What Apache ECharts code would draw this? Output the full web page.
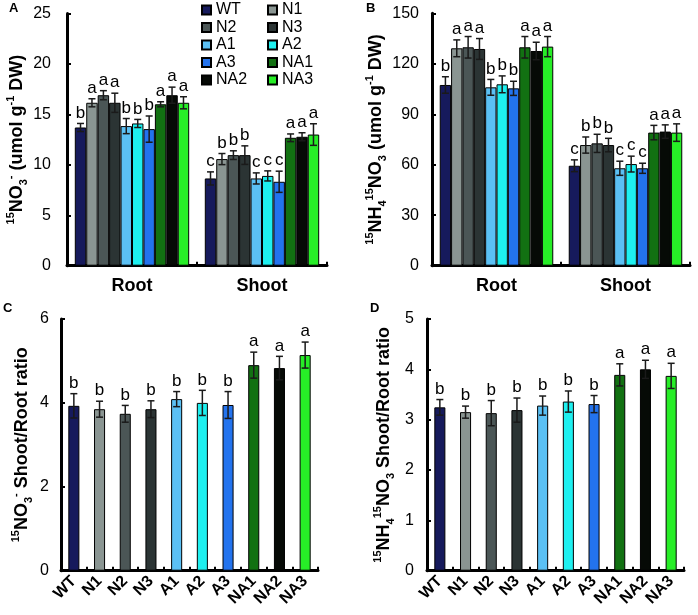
<!DOCTYPE html>
<html>
<head>
<meta charset="utf-8">
<script src="https://cdn.jsdelivr.net/npm/echarts@6/dist/echarts.min.js"></script>
<style>html,body{margin:0;padding:0;background:#fff}#c{width:698px;height:615px}</style>
</head>
<body>
<div id="c"></div>
<script>
// ---- data ----
const genotypes = ['WT','N1','N2','N3','A1','A2','A3','NA1','NA2','NA3'];
const tissues = ['Root','Shoot'];

const no3Root      = [13.7,16.15,16.9,16.15,13.84,14.1,13.54,16.0,16.9,16.15];
const no3RootErr   = [0.4,0.4,0.45,0.95,0.75,0.4,1.3,0.25,0.8,0.6];
const no3RootSig   = ['b','a','a','a','b','b','b','a','a','a'];
const no3Shoot     = [8.65,10.57,10.96,10.96,8.65,8.9,8.32,12.68,12.78,13.0];
const no3ShootErr  = [0.65,0.55,0.43,0.92,0.55,0.5,1.05,0.38,0.4,1.07];
const no3ShootSig  = ['c','b','b','b','c','c','c','a','a','a'];

const nhRoot       = [107.4,129.2,129.8,128.8,106.0,107.8,105.4,129.8,127.6,130.2];
const nhRootErr    = [4.9,5.0,6.4,6.2,4.7,5.0,4.2,6.4,5.2,6.0];
const nhRootSig    = ['b','a','a','a','b','b','b','a','a','a'];
const nhShoot      = [59.4,71.7,72.7,71.7,57.9,60.4,57.9,79.1,79.7,79.1];
const nhShootErr   = [3.5,4.8,5.4,4.0,4.2,4.7,3.0,4.3,4.0,5.2];
const nhShootSig   = ['c','b','b','b','c','c','c','a','a','a'];

const no3Ratio     = [3.93,3.85,3.74,3.85,4.09,4.0,3.95,4.9,4.83,5.14];
const no3RatioErr  = [0.29,0.19,0.2,0.2,0.18,0.3,0.32,0.31,0.28,0.31];
const no3RatioSig  = ['b','b','b','b','b','b','b','a','a','a'];

const nhRatio      = [3.245,3.15,3.13,3.19,3.28,3.36,3.31,3.89,4.0,3.87];
const nhRatioErr   = [0.155,0.12,0.25,0.24,0.19,0.21,0.17,0.22,0.18,0.25];
const nhRatioSig   = ['b','b','b','b','b','b','b','a','a','a'];

const ticksA = {min:0, max:25, interval:5};
const ticksB = {min:0, max:150, interval:30};
const ticksC = {min:0, max:6, interval:2};
const ticksD = {min:0, max:5, interval:1};

// ---- styles ----
const colors = ['#161a5c','#8a9592','#4b5656','#2b3434','#5bc0f4','#1ef0f0','#2373ee','#127112','#060a06','#27ee27'];
const FONT = 'Liberation Sans, Arial, sans-serif';
const BW = 0.088;

const grids = [
  {left:67, top:13.5, width:260, height:252.2},
  {left:432, top:13.3, width:258, height:252.4},
  {left:61, top:319, width:257, height:251.7},
  {left:427, top:319, width:257, height:251.7}
];

const rich = {
  n:{fontSize:18, fontWeight:'bold', fontFamily:FONT, color:'#000', lineHeight:24, verticalAlign:'middle'},
  sup:{fontSize:11, fontWeight:'bold', fontFamily:FONT, color:'#000', lineHeight:24, verticalAlign:'top'},
  sub:{fontSize:11, fontWeight:'bold', fontFamily:FONT, color:'#000', lineHeight:24, verticalAlign:'bottom'}
};
const names = [
  '{sup|15}{n|NO}{sub|3}{sup|-}{n| (umol g}{sup|-1}{n| DW)}',
  '{sup|15}{n|NH}{sub|4}{sup|15}{n|NO}{sub|3}{n| (umol g}{sup|-1}{n| DW)}',
  '{sup|15}{n|NO}{sub|3}{sup|-}{n| Shoot/Root ratio}',
  '{sup|15}{n|NH}{sub|4}{sup|15}{n|NO}{sub|3}{n| Shoot/Root ratio}'
];

function yAxis(gi, t, labelMargin, nameGap){
  return {
    gridIndex:gi, type:'value', min:t.min, max:t.max, interval:t.interval,
    name:names[gi], nameLocation:'middle', nameGap:nameGap, nameTextStyle:{rich:rich},
    axisLine:{show:true, lineStyle:{color:'#000', width:3}},
    axisTick:{show:true, inside:true, length:4, lineStyle:{color:'#000', width:2}},
    splitLine:{show:false},
    axisLabel:{margin:labelMargin, fontSize:16, fontFamily:FONT, color:'#000'}
  };
}
function xAxisCat(gi, data, label){
  return {
    gridIndex:gi, type:'category', data:data, boundaryGap:true,
    axisLine:{show:true, lineStyle:{color:'#000', width:3}},
    axisTick:{show:true, inside:true, length:4, lineStyle:{color:'#000', width:2}},
    axisLabel:label
  };
}

function errSeries(xi, items, offsetMode){
  return {
    type:'custom', xAxisIndex:xi, yAxisIndex:xi, z:10, clip:false,
    data: items.map(it => [it.cat, it.v + it.e]),
    encode:{x:0, y:1},
    renderItem:function(params, api){
      const it = items[params.dataIndex];
      const catW = api.size([1,0])[0];
      let cx = api.coord([it.cat, 0])[0];
      if(offsetMode) cx += (it.k - 4.5) * catW * BW;
      const yT = api.coord([it.cat, it.v + it.e])[1];
      const yB = api.coord([it.cat, it.v - it.e])[1];
      const cap = 3.5;
      const ls = {stroke:'#1a1a1a', lineWidth:1.5};
      return {type:'group', children:[
        {type:'line', shape:{x1:cx, y1:yT, x2:cx, y2:yB}, style:ls},
        {type:'line', shape:{x1:cx-cap, y1:yT, x2:cx+cap, y2:yT}, style:ls},
        {type:'line', shape:{x1:cx-cap, y1:yB, x2:cx+cap, y2:yB}, style:ls},
        {type:'text', x:cx, y:yT-2, style:{text:it.sig, fill:'#000', font:'17px ' + FONT, align:'center', verticalAlign:'bottom'}}
      ]};
    }
  };
}

const series = [];
// Panels A and B: grouped bars
[[no3Root,no3Shoot,no3RootErr,no3ShootErr,no3RootSig,no3ShootSig],
 [nhRoot,nhShoot,nhRootErr,nhShootErr,nhRootSig,nhShootSig]].forEach((d, gi) => {
  const items = [];
  genotypes.forEach((g, k) => {
    series.push({
      name:g, type:'bar', xAxisIndex:gi, yAxisIndex:gi,
      data:[d[0][k], d[1][k]], barWidth:(BW*100)+'%', barGap:'0%',
      itemStyle:{color:colors[k], borderColor:'#000', borderWidth:1}
    });
    items.push({cat:0, k:k, v:d[0][k], e:d[2][k], sig:d[4][k]});
    items.push({cat:1, k:k, v:d[1][k], e:d[3][k], sig:d[5][k]});
  });
  series.push(errSeries(gi, items, true));
});
// Panels C and D
[[no3Ratio,no3RatioErr,no3RatioSig],[nhRatio,nhRatioErr,nhRatioSig]].forEach((d, j) => {
  const gi = j + 2;
  series.push({
    type:'bar', xAxisIndex:gi, yAxisIndex:gi, barWidth:'43%',
    data: d[0].map((v,k) => ({value:v, itemStyle:{color:colors[k], borderColor:'#000', borderWidth:1}}))
  });
  series.push(errSeries(gi, d[0].map((v,k) => ({cat:k, k:0, v:v, e:d[1][k], sig:d[2][k]})), false));
});

const legendText = {fontSize:16, fontFamily:FONT, color:'#000', lineHeight:16};
const option = {
  animation:false,
  backgroundColor:'#fff',
  grid: grids.map(g => Object.assign({containLabel:false, outerBoundsMode:'none'}, g)),
  legend:[
    {data:['WT','N2','A1','A3','NA2'], orient:'vertical', left:196, top:-3, itemWidth:9, itemHeight:9, itemGap:1.5, icon:'rect', textStyle:legendText, selectedMode:false},
    {data:['N1','N3','A2','NA1','NA3'], orient:'vertical', left:262, top:-3, itemWidth:9, itemHeight:9, itemGap:1.5, icon:'rect', textStyle:legendText, selectedMode:false}
  ],
  xAxis:[
    xAxisCat(0, tissues, {margin:11, fontSize:18, fontWeight:'bold', fontFamily:FONT, color:'#000'}),
    xAxisCat(1, tissues, {margin:11, fontSize:18, fontWeight:'bold', fontFamily:FONT, color:'#000'}),
    xAxisCat(2, genotypes, {margin:8, rotate:45, interval:0, fontSize:16, fontWeight:'bold', fontFamily:FONT, color:'#000'}),
    xAxisCat(3, genotypes, {margin:8, rotate:45, interval:0, fontSize:16, fontWeight:'bold', fontFamily:FONT, color:'#000'})
  ],
  yAxis:[
    yAxis(0, ticksA, 16, 32),
    yAxis(1, ticksB, 13, 37),
    yAxis(2, ticksC, 12, 27),
    yAxis(3, ticksD, 13, 31)
  ],
  graphic:[
    {type:'text', left:9, top:2, style:{text:'A', font:'bold 13px ' + FONT, fill:'#000'}},
    {type:'text', left:366, top:2, style:{text:'B', font:'bold 13px ' + FONT, fill:'#000'}},
    {type:'text', left:3, top:302, style:{text:'C', font:'bold 13px ' + FONT, fill:'#000'}},
    {type:'text', left:370, top:302, style:{text:'D', font:'bold 13px ' + FONT, fill:'#000'}}
  ],
  series:series
};
const chart = echarts.init(document.getElementById('c'), null, {renderer:'canvas'});
chart.setOption(option);
</script>
</body>
</html>
